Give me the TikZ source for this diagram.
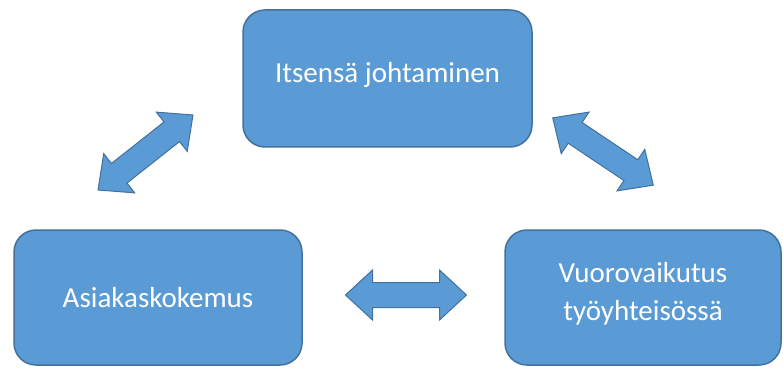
\documentclass[tikz,border=0pt]{standalone}
\usepackage{fontspec}
\setmainfont{Carlito}
\definecolor{boxfill}{HTML}{5B9BD5}
\definecolor{boxline}{HTML}{41719C}
\newcommand{\dblarrow}[4]{% center x, center y, angle, name
  \begin{scope}[shift={(#1,#2)},rotate=#3]
    \draw[arrowshape] (-60.5,0) -- (-33.5,25) -- (-33.5,12.5) -- (33.5,12.5) -- (33.5,25) -- (60.5,0) -- (33.5,-25) -- (33.5,-12.5) -- (-33.5,-12.5) -- (-33.5,-25) -- cycle;
    \coordinate (#4) at (0,0);
  \end{scope}}
\begin{document}
\begin{tikzpicture}[x=1pt,y=1pt,
  boxnode/.style={draw=boxline, line width=1.5pt, fill=boxfill, rounded corners=22pt, align=center, inner sep=0pt},
  boxtext/.style={text=white, align=center, font=\fontsize{29}{38}\selectfont},
  arrowshape/.style={draw=boxline, line width=1pt, fill=boxfill, line join=miter}]
\useasboundingbox (0,0) rectangle (783,367);
\node[boxnode, minimum width=289pt, minimum height=137pt] (top) at (387.5,288.5) {};
\node[boxtext] (toptext) at ([yshift=4pt]top.center) {Itsensä johtaminen};
\node[boxnode, minimum width=288pt, minimum height=135pt] (left) at (158,69.5) {};
\node[boxtext] (lefttext) at (left.center) {Asiakaskokemus};
\node[boxnode, minimum width=276pt, minimum height=135pt] (right) at (643,69.5) {};
\node[boxtext] (righttext) at ([yshift=4pt]right.center) {Vuorovaikutus\\työyhteisössä};
\dblarrow{145.5}{214.5}{38.3}{a1}
\dblarrow{603}{215.5}{-33.8}{a2}
\dblarrow{406}{72}{0}{a3}
\end{tikzpicture}
\end{document}
